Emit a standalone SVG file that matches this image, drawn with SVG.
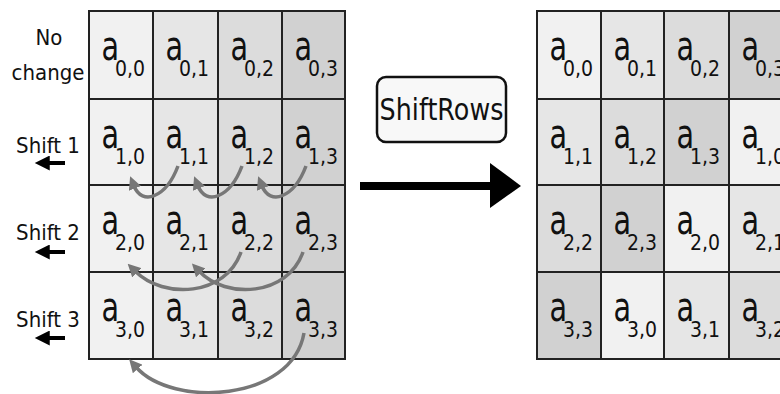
<svg xmlns="http://www.w3.org/2000/svg" width="780" height="394" viewBox="0 0 780 394">
<style>
.c0{fill:#f1f1f1}.c1{fill:#e6e6e6}.c2{fill:#dcdcdc}.c3{fill:#d1d1d1}
.cell{stroke:#222;stroke-width:2}
.a{font-family:"DejaVu Sans",sans-serif;font-size:41px;fill:#111}
.s{font-family:"DejaVu Sans",sans-serif;font-size:21px;fill:#111}
.lbl{font-family:"DejaVu Sans",sans-serif;font-size:22px;fill:#111;text-anchor:middle}
.curve{fill:none;stroke:#777;stroke-width:3.5;marker-end:url(#ah)}
.larr{stroke:#000;stroke-width:4;marker-end:url(#lh)}
</style>
<defs>
<marker id="ah" viewBox="0 0 10 10" refX="2" refY="5" markerWidth="13" markerHeight="13" markerUnits="userSpaceOnUse" orient="auto">
<path d="M0,0 L10,5 L0,10 z" fill="#777"/>
</marker>
<marker id="lh" viewBox="0 0 10 10" refX="0.5" refY="5" markerWidth="16" markerHeight="15" markerUnits="userSpaceOnUse" orient="auto">
<path d="M0,0 L10,5 L0,10 z" fill="#000"/>
</marker>
</defs>
<rect width="780" height="394" fill="#fff"/>

<g id="labels">
<text class="lbl" transform="translate(49,45) scale(0.9,1)">No</text>
<text class="lbl" transform="translate(48,80) scale(0.9,1)">change</text>
<g id="shift1"><text class="lbl" transform="translate(48,153) scale(0.9,1)">Shift 1</text><path class="larr" d="M65,163 H49"/></g>
<g id="shift2"><text class="lbl" transform="translate(48,240) scale(0.9,1)">Shift 2</text><path class="larr" d="M65,252 H49"/></g>
<g id="shift3"><text class="lbl" transform="translate(48,327) scale(0.9,1)">Shift 3</text><path class="larr" d="M65,338 H49"/></g>
</g>

<g id="left-grid">
<g id="L00"><rect class="cell c0" x="89" y="11" width="64" height="88"/><text class="a" transform="translate(101.5,60) scale(0.7,1)">a</text><text class="s" transform="translate(115,76) scale(0.9,1)">0,0</text></g>
<g id="L01"><rect class="cell c1" x="153" y="11" width="65" height="88"/><text class="a" transform="translate(165.5,60) scale(0.7,1)">a</text><text class="s" transform="translate(179,76) scale(0.9,1)">0,1</text></g>
<g id="L02"><rect class="cell c2" x="218" y="11" width="64" height="88"/><text class="a" transform="translate(230.5,60) scale(0.7,1)">a</text><text class="s" transform="translate(244,76) scale(0.9,1)">0,2</text></g>
<g id="L03"><rect class="cell c3" x="282" y="11" width="63" height="88"/><text class="a" transform="translate(294.5,60) scale(0.7,1)">a</text><text class="s" transform="translate(308,76) scale(0.9,1)">0,3</text></g>

<g id="L10"><rect class="cell c0" x="89" y="99" width="64" height="86"/><text class="a" transform="translate(101.5,148) scale(0.7,1)">a</text><text class="s" transform="translate(115,164) scale(0.9,1)">1,0</text></g>
<g id="L11"><rect class="cell c1" x="153" y="99" width="65" height="86"/><text class="a" transform="translate(165.5,148) scale(0.7,1)">a</text><text class="s" transform="translate(179,164) scale(0.9,1)">1,1</text></g>
<g id="L12"><rect class="cell c2" x="218" y="99" width="64" height="86"/><text class="a" transform="translate(230.5,148) scale(0.7,1)">a</text><text class="s" transform="translate(244,164) scale(0.9,1)">1,2</text></g>
<g id="L13"><rect class="cell c3" x="282" y="99" width="63" height="86"/><text class="a" transform="translate(294.5,148) scale(0.7,1)">a</text><text class="s" transform="translate(308,164) scale(0.9,1)">1,3</text></g>

<g id="L20"><rect class="cell c0" x="89" y="185" width="64" height="87"/><text class="a" transform="translate(101.5,234) scale(0.7,1)">a</text><text class="s" transform="translate(115,250) scale(0.9,1)">2,0</text></g>
<g id="L21"><rect class="cell c1" x="153" y="185" width="65" height="87"/><text class="a" transform="translate(165.5,234) scale(0.7,1)">a</text><text class="s" transform="translate(179,250) scale(0.9,1)">2,1</text></g>
<g id="L22"><rect class="cell c2" x="218" y="185" width="64" height="87"/><text class="a" transform="translate(230.5,234) scale(0.7,1)">a</text><text class="s" transform="translate(244,250) scale(0.9,1)">2,2</text></g>
<g id="L23"><rect class="cell c3" x="282" y="185" width="63" height="87"/><text class="a" transform="translate(294.5,234) scale(0.7,1)">a</text><text class="s" transform="translate(308,250) scale(0.9,1)">2,3</text></g>

<g id="L30"><rect class="cell c0" x="89" y="272" width="64" height="87"/><text class="a" transform="translate(101.5,321) scale(0.7,1)">a</text><text class="s" transform="translate(115,337) scale(0.9,1)">3,0</text></g>
<g id="L31"><rect class="cell c1" x="153" y="272" width="65" height="87"/><text class="a" transform="translate(165.5,321) scale(0.7,1)">a</text><text class="s" transform="translate(179,337) scale(0.9,1)">3,1</text></g>
<g id="L32"><rect class="cell c2" x="218" y="272" width="64" height="87"/><text class="a" transform="translate(230.5,321) scale(0.7,1)">a</text><text class="s" transform="translate(244,337) scale(0.9,1)">3,2</text></g>
<g id="L33"><rect class="cell c3" x="282" y="272" width="63" height="87"/><text class="a" transform="translate(294.5,321) scale(0.7,1)">a</text><text class="s" transform="translate(308,337) scale(0.9,1)">3,3</text></g>
</g>

<g id="right-grid">
<g id="R00"><rect class="cell c0" x="537" y="11" width="64" height="88"/><text class="a" transform="translate(549.5,60) scale(0.7,1)">a</text><text class="s" transform="translate(563,76) scale(0.9,1)">0,0</text></g>
<g id="R01"><rect class="cell c1" x="601" y="11" width="63" height="88"/><text class="a" transform="translate(613.5,60) scale(0.7,1)">a</text><text class="s" transform="translate(627,76) scale(0.9,1)">0,1</text></g>
<g id="R02"><rect class="cell c2" x="664" y="11" width="65" height="88"/><text class="a" transform="translate(676.5,60) scale(0.7,1)">a</text><text class="s" transform="translate(690,76) scale(0.9,1)">0,2</text></g>
<g id="R03"><rect class="cell c3" x="729" y="11" width="64" height="88"/><text class="a" transform="translate(741.5,60) scale(0.7,1)">a</text><text class="s" transform="translate(755,76) scale(0.9,1)">0,3</text></g>

<g id="R11"><rect class="cell c1" x="537" y="99" width="64" height="86"/><text class="a" transform="translate(549.5,148) scale(0.7,1)">a</text><text class="s" transform="translate(563,164) scale(0.9,1)">1,1</text></g>
<g id="R12"><rect class="cell c2" x="601" y="99" width="63" height="86"/><text class="a" transform="translate(613.5,148) scale(0.7,1)">a</text><text class="s" transform="translate(627,164) scale(0.9,1)">1,2</text></g>
<g id="R13"><rect class="cell c3" x="664" y="99" width="65" height="86"/><text class="a" transform="translate(676.5,148) scale(0.7,1)">a</text><text class="s" transform="translate(690,164) scale(0.9,1)">1,3</text></g>
<g id="R10"><rect class="cell c0" x="729" y="99" width="64" height="86"/><text class="a" transform="translate(741.5,148) scale(0.7,1)">a</text><text class="s" transform="translate(755,164) scale(0.9,1)">1,0</text></g>

<g id="R22"><rect class="cell c2" x="537" y="185" width="64" height="87"/><text class="a" transform="translate(549.5,234) scale(0.7,1)">a</text><text class="s" transform="translate(563,250) scale(0.9,1)">2,2</text></g>
<g id="R23"><rect class="cell c3" x="601" y="185" width="63" height="87"/><text class="a" transform="translate(613.5,234) scale(0.7,1)">a</text><text class="s" transform="translate(627,250) scale(0.9,1)">2,3</text></g>
<g id="R20"><rect class="cell c0" x="664" y="185" width="65" height="87"/><text class="a" transform="translate(676.5,234) scale(0.7,1)">a</text><text class="s" transform="translate(690,250) scale(0.9,1)">2,0</text></g>
<g id="R21"><rect class="cell c1" x="729" y="185" width="64" height="87"/><text class="a" transform="translate(741.5,234) scale(0.7,1)">a</text><text class="s" transform="translate(755,250) scale(0.9,1)">2,1</text></g>

<g id="R33"><rect class="cell c3" x="537" y="272" width="64" height="87"/><text class="a" transform="translate(549.5,321) scale(0.7,1)">a</text><text class="s" transform="translate(563,337) scale(0.9,1)">3,3</text></g>
<g id="R30"><rect class="cell c0" x="601" y="272" width="63" height="87"/><text class="a" transform="translate(613.5,321) scale(0.7,1)">a</text><text class="s" transform="translate(627,337) scale(0.9,1)">3,0</text></g>
<g id="R31"><rect class="cell c1" x="664" y="272" width="65" height="87"/><text class="a" transform="translate(676.5,321) scale(0.7,1)">a</text><text class="s" transform="translate(690,337) scale(0.9,1)">3,1</text></g>
<g id="R32"><rect class="cell c2" x="729" y="272" width="64" height="87"/><text class="a" transform="translate(741.5,321) scale(0.7,1)">a</text><text class="s" transform="translate(755,337) scale(0.9,1)">3,2</text></g>
</g>

<g id="shiftrows">
<rect x="377" y="77" width="129" height="65" rx="9" fill="#f8f8f8" stroke="#111" stroke-width="2.5"/>
<text class="lbl" transform="translate(441.5,120) scale(0.82,1)" style="font-size:31px">ShiftRows</text>
</g>

<g id="connectors">
<path class="curve" d="M178,166 C166,198 142,206 134,186"/>
<path class="curve" d="M242,166 C230,198 206,206 198,186"/>
<path class="curve" d="M306,166 C294,198 270,206 262,186"/>
<path class="curve" d="M241,252 C226,296 164,300 135,271"/>
<path class="curve" d="M303,252 C288,296 226,300 199,271"/>
<path class="curve" d="M304,333 C292,402 172,408 136,367"/>
<path d="M360,186 H492" stroke="#000" stroke-width="8"/>
<path d="M490,163 L521,186 L490,208 z" fill="#000"/>
</g>
</svg>
